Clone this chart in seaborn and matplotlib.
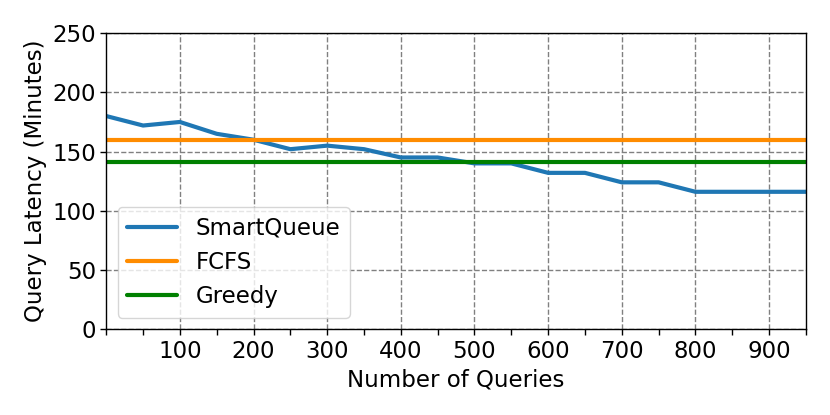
import numpy as np
import pandas as pd
import matplotlib
matplotlib.use("Agg")
import matplotlib.pyplot as plt
import seaborn as sns

# number of queries
queries = [0, 50, 100, 150, 200, 250, 300, 350, 400, 450,
           500, 550, 600, 650, 700, 750, 800, 850, 900, 950]
# latency values (minutes)
smartqueue = [180, 172, 175, 165, 160, 152, 155, 152, 145, 145,
              140, 140, 132, 132, 124, 124, 116, 116, 116, 116]
fcfs = [160] * len(queries)
greedy = [141] * len(queries)

methods = ["SmartQueue", "FCFS", "Greedy"]
colors = ["#1f77b4", "#ff8c00", "#008000"]

df = pd.concat([
    pd.DataFrame({"queries": queries, "latency": smartqueue, "method": "SmartQueue"}),
    pd.DataFrame({"queries": queries, "latency": fcfs, "method": "FCFS"}),
    pd.DataFrame({"queries": queries, "latency": greedy, "method": "Greedy"}),
])

sns.set_style("white")
plt.rcParams['font.family'] = ['DejaVu Sans']
plt.rcParams['text.color'] = 'black'
plt.rcParams['axes.labelcolor'] = 'black'
plt.rcParams['xtick.color'] = 'black'
plt.rcParams['ytick.color'] = 'black'

fig, ax = plt.subplots(figsize=(8.3, 4.15), dpi=100)
fig.subplots_adjust(left=0.128, right=0.971, top=0.920, bottom=0.207)

sns.lineplot(data=df, x="queries", y="latency", hue="method",
             hue_order=methods, palette=colors, linewidth=3, ax=ax)

ax.set_xlim(0, 950)
ax.set_ylim(0, 250)
ax.set_xticks(range(100, 1000, 100))
ax.set_xticks([0] + list(range(50, 1000, 100)), minor=True)
ax.set_yticks(range(0, 251, 50))
ax.tick_params(which="both", labelsize=16.5, direction="out", length=4,
               width=1, left=True, bottom=True)
ax.set_xlabel("Number of Queries", fontsize=16.5)
ax.set_ylabel("Query Latency (Minutes)", fontsize=16.5)
ax.grid(True, which="major", linestyle="--", color="gray", linewidth=1)
for s in ax.spines.values():
    s.set_color("black")
    s.set_linewidth(1)

ax.legend(loc="lower left", fontsize=16.5, handlelength=2.2, framealpha=0.8,
          borderaxespad=0.5)

plt.savefig("out.png", dpi=100)
